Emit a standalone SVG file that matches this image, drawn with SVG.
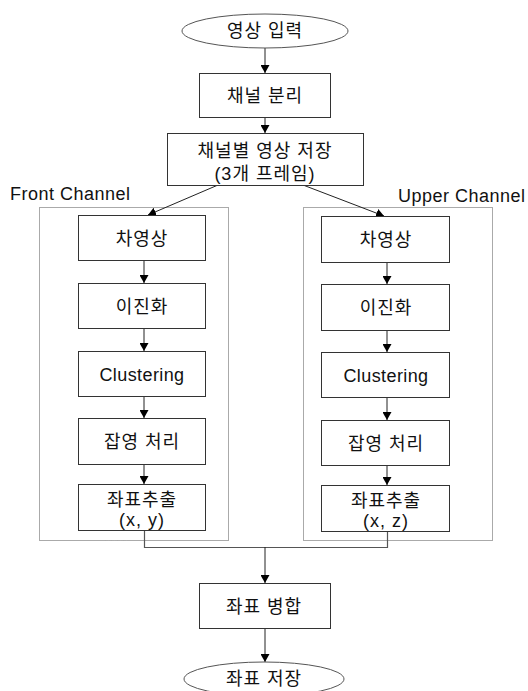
<svg xmlns="http://www.w3.org/2000/svg" width="528" height="691" viewBox="0 0 528 691">
<style>
  text { font-family: "Liberation Sans", "Noto Sans CJK KR", sans-serif; font-size: 18px; fill: #111; text-anchor: middle; letter-spacing: 1px; }
  .lat { letter-spacing: 0.4px; }
  .lbl { text-anchor: start; letter-spacing: 0.5px; }
  .box { fill: #fff; stroke: #333; stroke-width: 1; }
  .term { fill: #fff; stroke: #555; stroke-width: 1; }
  .group { fill: none; stroke: #555; stroke-width: 1; stroke-dasharray: 1 1; }
  .con { fill: none; stroke: #222; stroke-width: 1; }
  .con2 { fill: none; stroke: #555; stroke-width: 1.2; }
</style>
<defs>
  <marker id="ah" markerWidth="8" markerHeight="9" refX="8" refY="4.5" orient="auto" markerUnits="userSpaceOnUse">
    <path d="M0,0 L8,4.5 L0,9 Z" fill="#000"/>
  </marker>
</defs>

<g id="groups">
  <rect class="group" x="39.5" y="207.5" width="189" height="333"/>
  <rect class="group" x="303.5" y="207.5" width="189" height="333"/>
  <text class="lbl" x="10" y="200">Front Channel</text>
  <text class="lbl" x="398" y="202">Upper Channel</text>
</g>

<g id="connectors">
  <line class="con" x1="265" y1="48" x2="265" y2="73" marker-end="url(#ah)"/>
  <line class="con" x1="265" y1="117" x2="265" y2="133" marker-end="url(#ah)"/>
  <line class="con" x1="218" y1="185" x2="148" y2="215" marker-end="url(#ah)"/>
  <line class="con" x1="303" y1="185" x2="384" y2="216" marker-end="url(#ah)"/>
  <line class="con" x1="144" y1="260" x2="144" y2="283" marker-end="url(#ah)"/>
  <line class="con" x1="144" y1="328" x2="144" y2="351" marker-end="url(#ah)"/>
  <line class="con" x1="144" y1="396" x2="144" y2="418" marker-end="url(#ah)"/>
  <line class="con" x1="144" y1="464" x2="144" y2="484" marker-end="url(#ah)"/>
  <line class="con" x1="387" y1="262" x2="387" y2="284" marker-end="url(#ah)"/>
  <line class="con" x1="387" y1="330" x2="387" y2="352" marker-end="url(#ah)"/>
  <line class="con" x1="387" y1="397" x2="387" y2="420" marker-end="url(#ah)"/>
  <line class="con" x1="387" y1="465" x2="387" y2="485" marker-end="url(#ah)"/>
  <polyline class="con2" points="144.5,530 144.5,547.5 387.5,547.5 387.5,531"/>
  <line class="con" x1="265" y1="547" x2="265" y2="583" marker-end="url(#ah)"/>
  <line class="con" x1="265" y1="628" x2="265" y2="662" marker-end="url(#ah)"/>
</g>

<g id="input">
  <ellipse class="term" cx="265" cy="31" rx="83" ry="17"/>
  <text x="265" y="37">영상 입력</text>
</g>
<g id="split">
  <rect class="box" x="199.5" y="73.5" width="131" height="44"/>
  <text x="265" y="102">채널 분리</text>
</g>
<g id="store">
  <rect class="box" x="167.5" y="133.5" width="196" height="52"/>
  <text x="265" y="157">채널별 영상 저장</text>
  <text x="265" y="180">(3개 프레임)</text>
</g>

<g id="f-diff">
  <rect class="box" x="78.5" y="215.5" width="127" height="45"/>
  <text x="142" y="245">차영상</text>
</g>
<g id="f-bin">
  <rect class="box" x="78.5" y="283.5" width="127" height="45"/>
  <text x="142" y="313">이진화</text>
</g>
<g id="f-clu">
  <rect class="box" x="78.5" y="351.5" width="127" height="45"/>
  <text class="lat" x="142" y="381">Clustering</text>
</g>
<g id="f-noise">
  <rect class="box" x="78.5" y="418.5" width="127" height="46"/>
  <text x="142" y="448">잡영 처리</text>
</g>
<g id="f-coord">
  <rect class="box" x="78.5" y="484.5" width="127" height="46"/>
  <text x="142" y="506">좌표추출</text>
  <text x="142" y="526">(x, y)</text>
</g>

<g id="u-diff">
  <rect class="box" x="321.5" y="216.5" width="128" height="46"/>
  <text x="386" y="246">차영상</text>
</g>
<g id="u-bin">
  <rect class="box" x="321.5" y="284.5" width="128" height="46"/>
  <text x="386" y="314">이진화</text>
</g>
<g id="u-clu">
  <rect class="box" x="321.5" y="352.5" width="128" height="45"/>
  <text class="lat" x="386" y="382">Clustering</text>
</g>
<g id="u-noise">
  <rect class="box" x="321.5" y="420.5" width="128" height="45"/>
  <text x="386" y="450">잡영 처리</text>
</g>
<g id="u-coord">
  <rect class="box" x="321.5" y="485.5" width="128" height="46"/>
  <text x="386" y="507">좌표추출</text>
  <text x="386" y="527">(x, z)</text>
</g>

<g id="merge">
  <rect class="box" x="199.5" y="583.5" width="131" height="45"/>
  <text x="264" y="613">좌표 병합</text>
</g>
<g id="save">
  <ellipse class="term" cx="264" cy="679" rx="80" ry="17"/>
  <text x="264" y="685">좌표 저장</text>
</g>
</svg>
